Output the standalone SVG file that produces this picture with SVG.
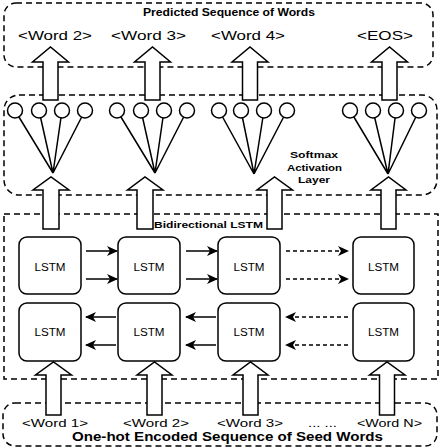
<svg xmlns="http://www.w3.org/2000/svg" width="440" height="448" viewBox="0 0 440 448">
<defs>
<style>
.cont{fill:none;stroke:#000;stroke-width:1.5;stroke-dasharray:6 4}
.big{fill:#fff;stroke:#000;stroke-width:1.5;stroke-linejoin:miter}
.lstm{fill:#fff;stroke:#000;stroke-width:1.5}
.fan{stroke:#000;stroke-width:1.5;fill:none}
.neuron{fill:#fff;stroke:#000;stroke-width:1.5}
.flow{stroke:#000;stroke-width:1.5;fill:none;marker-end:url(#ah)}
.dflow{stroke:#000;stroke-width:1.5;fill:none;stroke-dasharray:4 3;marker-end:url(#ah)}
text{font-family:"Liberation Sans",Arial,Helvetica,sans-serif;fill:#000}
.w{font-size:13px}
.wb{font-size:11.5px}
.t{font-size:10px;font-weight:bold}
.s{font-size:9px;font-weight:bold}
.l{font-size:10px;text-anchor:middle}
</style>
<marker id="ah" markerWidth="11" markerHeight="10" refX="10" refY="5" orient="auto" markerUnits="userSpaceOnUse">
<path d="M0,0 L11,5 L0,10 L3,5 Z" fill="#000"/>
</marker>
</defs>
<rect width="440" height="448" fill="#fff"/>

<g id="output-layer">
<rect class="cont" x="4" y="3" width="429" height="64" rx="12"/>
<text class="t" x="143" y="16" textLength="172" lengthAdjust="spacingAndGlyphs">Predicted Sequence of Words</text>
<text class="w" x="18" y="39.5" textLength="74" lengthAdjust="spacingAndGlyphs">&lt;Word 2&gt;</text>
<text class="w" x="111" y="39.5" textLength="75" lengthAdjust="spacingAndGlyphs">&lt;Word 3&gt;</text>
<text class="w" x="211" y="39.5" textLength="74" lengthAdjust="spacingAndGlyphs">&lt;Word 4&gt;</text>
<text class="w" x="357" y="39.5" textLength="56" lengthAdjust="spacingAndGlyphs">&lt;EOS&gt;</text>
</g>

<g id="softmax-layer">
<rect class="cont" x="4" y="95" width="433" height="100" rx="15"/>
<text class="s" x="314" y="158" text-anchor="middle" textLength="48" lengthAdjust="spacingAndGlyphs">Softmax</text>
<text class="s" x="314.5" y="170.5" text-anchor="middle" textLength="55" lengthAdjust="spacingAndGlyphs">Activation</text>
<text class="s" x="314" y="182.5" text-anchor="middle" textLength="32" lengthAdjust="spacingAndGlyphs">Layer</text>
</g>

<g id="lstm-layer">
<rect class="cont" x="4" y="214" width="434" height="165"/>
<text class="s" x="154" y="228" textLength="109" lengthAdjust="spacingAndGlyphs">Bidirectional LSTM</text>
</g>

<g id="input-layer">
<rect class="cont" x="3" y="403" width="434" height="43" rx="12"/>
<text class="wb" x="22" y="426.5" textLength="66" lengthAdjust="spacingAndGlyphs">&lt;Word 1&gt;</text>
<text class="wb" x="123" y="426.5" textLength="66" lengthAdjust="spacingAndGlyphs">&lt;Word 2&gt;</text>
<text class="wb" x="217" y="426.5" textLength="66" lengthAdjust="spacingAndGlyphs">&lt;Word 3&gt;</text>
<text class="wb" x="308" y="426.5" textLength="29" lengthAdjust="spacingAndGlyphs">... ...</text>
<text class="wb" x="357" y="426.5" textLength="65" lengthAdjust="spacingAndGlyphs">&lt;Word N&gt;</text>
<text x="72" y="441" font-size="12.5" font-weight="bold" textLength="311" lengthAdjust="spacingAndGlyphs">One-hot Encoded Sequence of Seed Words</text>
</g>

<g id="connectors">
<g id="fans">
<path class="fan" d="M15,110.5 L53,173 M39,110.5 L53,173 M62,110.5 L53,173 M85,110.5 L53,173"/>
<path class="fan" d="M117,110.5 L155,173 M141,110.5 L155,173 M164,110.5 L155,173 M187,110.5 L155,173"/>
<path class="fan" d="M219,110.5 L254,174 M241,110.5 L254,174 M264,110.5 L254,174 M287,110.5 L254,174"/>
<path class="fan" d="M350,110.5 L388,174 M373,110.5 L388,174 M396,110.5 L388,174 M419,110.5 L388,174"/>
</g>
<g id="forward-flow">
<line class="flow" x1="86" y1="251" x2="117" y2="251"/>
<line class="flow" x1="86" y1="279" x2="117" y2="279"/>
<line class="flow" x1="186" y1="251" x2="217" y2="251"/>
<line class="flow" x1="186" y1="279" x2="217" y2="279"/>
<line class="dflow" x1="286" y1="251" x2="348" y2="251"/>
<line class="dflow" x1="286" y1="279" x2="348" y2="279"/>
</g>
<g id="backward-flow">
<line class="flow" x1="116" y1="317" x2="86" y2="317"/>
<line class="flow" x1="116" y1="345" x2="86" y2="345"/>
<line class="flow" x1="216" y1="317" x2="186" y2="317"/>
<line class="flow" x1="216" y1="345" x2="186" y2="345"/>
<line class="dflow" x1="348" y1="317" x2="286" y2="317"/>
<line class="dflow" x1="348" y1="345" x2="286" y2="345"/>
</g>
<g id="softmax-to-output">
<path class="big" d="M43,100 L43,62 L32.5,62 L50.5,47 L68.5,62 L58,62 L58,100 Z"/>
<path class="big" d="M145,100 L145,62 L134.5,62 L152.5,47 L170.5,62 L160,62 L160,100 Z"/>
<path class="big" d="M242.5,100 L242.5,62 L232,62 L250,47 L268,62 L257.5,62 L257.5,100 Z"/>
<path class="big" d="M382,100 L382,62 L371.5,62 L389.5,47 L407.5,62 L397,62 L397,100 Z"/>
</g>
<g id="lstm-to-softmax">
<path class="big" d="M43,229 L43,190 L33,190 L51,177 L69,190 L59,190 L59,229 Z"/>
<path class="big" d="M137,229 L137,190 L127.5,190 L145,177 L163,190 L153,190 L153,229 Z"/>
<path class="big" d="M267,229 L267,190 L257,190 L274.5,177 L292.5,190 L282,190 L282,229 Z"/>
<path class="big" d="M381,229 L381,190 L371,190 L388.5,177 L406,190 L396,190 L396,229 Z"/>
</g>
<g id="input-to-lstm">
<path class="big" d="M46,415 L46,375 L35.5,375 L53.5,362 L71.5,375 L61,375 L61,415 Z"/>
<path class="big" d="M147,415 L147,375 L137,375 L154.5,362 L172,375 L162,375 L162,415 Z"/>
<path class="big" d="M243,415 L243,375 L233,375 L250.5,362 L268,375 L258,375 L258,415 Z"/>
<path class="big" d="M379.5,415 L379.5,375 L369.5,375 L387,362 L405,375 L394.5,375 L394.5,415 Z"/>
</g>
</g>

<g id="neurons">
<circle class="neuron" cx="15" cy="110.5" r="7.5"/>
<circle class="neuron" cx="39" cy="110.5" r="7.5"/>
<circle class="neuron" cx="62" cy="110.5" r="7.5"/>
<circle class="neuron" cx="85" cy="110.5" r="7.5"/>
<circle class="neuron" cx="117" cy="110.5" r="7.5"/>
<circle class="neuron" cx="141" cy="110.5" r="7.5"/>
<circle class="neuron" cx="164" cy="110.5" r="7.5"/>
<circle class="neuron" cx="187" cy="110.5" r="7.5"/>
<circle class="neuron" cx="219" cy="110.5" r="7.5"/>
<circle class="neuron" cx="241" cy="110.5" r="7.5"/>
<circle class="neuron" cx="264" cy="110.5" r="7.5"/>
<circle class="neuron" cx="287" cy="110.5" r="7.5"/>
<circle class="neuron" cx="350" cy="110.5" r="7.5"/>
<circle class="neuron" cx="373" cy="110.5" r="7.5"/>
<circle class="neuron" cx="396" cy="110.5" r="7.5"/>
<circle class="neuron" cx="419" cy="110.5" r="7.5"/>
</g>

<g id="lstm-f1"><rect class="lstm" x="19" y="237" width="62" height="57" rx="8"/><text class="l" x="50" y="270.5" textLength="31" lengthAdjust="spacingAndGlyphs">LSTM</text></g>
<g id="lstm-f2"><rect class="lstm" x="118" y="237" width="62" height="57" rx="8"/><text class="l" x="149" y="270.5" textLength="31" lengthAdjust="spacingAndGlyphs">LSTM</text></g>
<g id="lstm-f3"><rect class="lstm" x="218" y="237" width="62" height="57" rx="8"/><text class="l" x="249" y="270.5" textLength="31" lengthAdjust="spacingAndGlyphs">LSTM</text></g>
<g id="lstm-f4"><rect class="lstm" x="353" y="237" width="61" height="57" rx="8"/><text class="l" x="383.5" y="270.5" textLength="31" lengthAdjust="spacingAndGlyphs">LSTM</text></g>
<g id="lstm-b1"><rect class="lstm" x="19" y="303" width="62" height="58" rx="8"/><text class="l" x="50" y="336" textLength="31" lengthAdjust="spacingAndGlyphs">LSTM</text></g>
<g id="lstm-b2"><rect class="lstm" x="118" y="303" width="62" height="58" rx="8"/><text class="l" x="149" y="336" textLength="31" lengthAdjust="spacingAndGlyphs">LSTM</text></g>
<g id="lstm-b3"><rect class="lstm" x="218" y="303" width="62" height="58" rx="8"/><text class="l" x="249" y="336" textLength="31" lengthAdjust="spacingAndGlyphs">LSTM</text></g>
<g id="lstm-b4"><rect class="lstm" x="353" y="303" width="61" height="58" rx="8"/><text class="l" x="383.5" y="336" textLength="31" lengthAdjust="spacingAndGlyphs">LSTM</text></g>
</svg>
